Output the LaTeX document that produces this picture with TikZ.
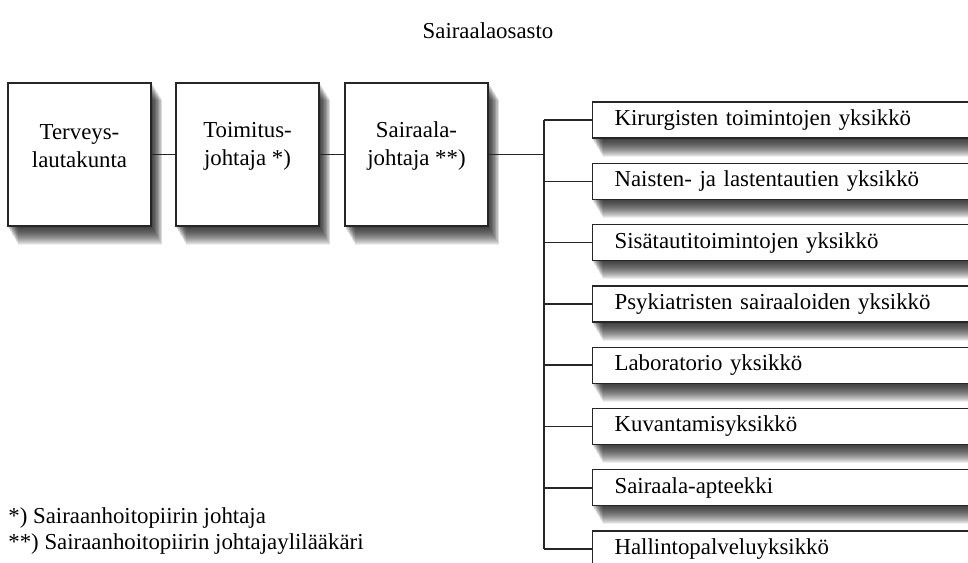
\documentclass[tikz,border=0pt]{standalone}
\usepackage{fontspec}
\setmainfont{Liberation Serif}
\usetikzlibrary{positioning, backgrounds, calc}

\tikzset{
    orgbox/.style={draw=black!85, line width=0.7pt, fill=white},
    headbox/.style={orgbox, minimum width=2.86cm, minimum height=2.86cm},
    unitbox/.style={orgbox, anchor=west, minimum height=0.72cm, text width=7.12cm,
        inner xsep=0.44cm, align=left},
    shadowlayer/.style={fill=black, opacity=0.07},
    link/.style={line width=0.9pt, draw=black!85}
}

\begin{document}
\begin{tikzpicture}[x=0.02cm, y=-0.02cm, font=\fontsize{13}{16}\selectfont]
    \useasboundingbox (0,0) rectangle (968,563);
    \clip (0,0) rectangle (968,563);
    % Title
    \node (title) at (488,31) {Sairaalaosasto};
    % Management chain
    \node[headbox] (lauta) at (79.5,154.5) {};
    \node[headbox] (toimitus) at (247.5,154.5) {};
    \node[headbox] (sairaala) at (416.5,154.5) {};
    \node[align=center] (lautatext) at (79.5,146) {Terveys-\\lautakunta};
    \node[align=center] (toimitustext) at (247.5,146) {Toimitus-\\johtaja *)};
    \node[align=center] (sairaalatext) at (416.5,146) {Sairaala-\\johtaja **)};
    % Units
    \foreach \name [count=\i from 0] in {Kirurgisten toimintojen yksikkö,
        Naisten- ja lastentautien yksikkö, Sisätautitoimintojen yksikkö,
        Psykiatristen sairaaloiden yksikkö, Laboratorio yksikkö,
        Kuvantamisyksikkö, Sairaala-apteekki, Hallintopalveluyksikkö} {
        \node[unitbox] (unit\i) at (592,120+61.3*\i) {\name};
    }
    % Soft shadows
    \begin{scope}[on background layer]
        \foreach \nd in {lauta, toimitus, sairaala, unit0, unit1, unit2, unit3,
            unit4, unit5, unit6, unit7} {
            \foreach \d in {1,2,...,18} {
                \fill[shadowlayer] ($(\nd.north west)+(\d*0.6,\d)$)
                    rectangle ($(\nd.south east)+(\d*0.6,\d)$);
            }
        }
    \end{scope}
    % Connectors
    \coordinate (trunk) at (544,154.5);
    \draw[link] (lauta.east) -- (toimitus.west);
    \draw[link] (toimitus.east) -- (sairaala.west);
    \draw[link] (sairaala.east) -- (trunk);
    \draw[link] (trunk |- unit0.west) -- (trunk |- unit7.west);
    \foreach \i in {0,...,7} {
        \draw[link] (trunk |- unit\i.west) -- (unit\i.west);
    }
    % Footnotes
    \node[anchor=base west, inner sep=0pt] (note1) at (8,524) {*) Sairaanhoitopiirin johtaja};
    \node[anchor=base west, inner sep=0pt] (note2) at (8,550) {**) Sairaanhoitopiirin johtajaylilääkäri};
\end{tikzpicture}
\end{document}
